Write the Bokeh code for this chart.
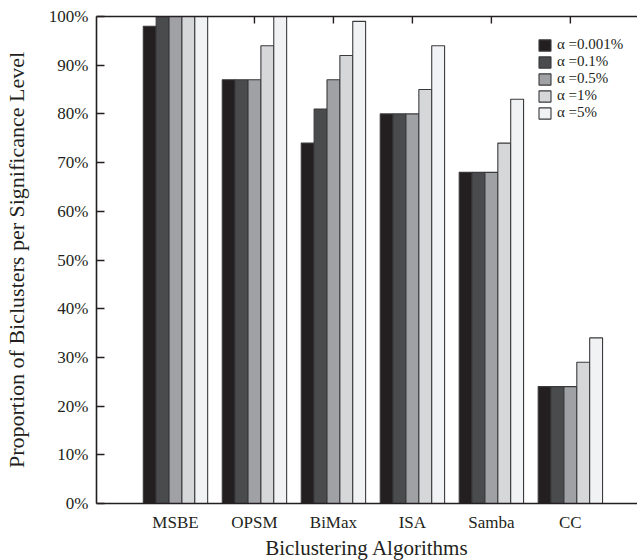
import numpy as np
from bokeh.plotting import figure
from bokeh.models import ColumnDataSource, Range1d, FixedTicker, LinearAxis, PrintfTickFormatter, Legend, LegendItem
from bokeh.transform import dodge
from bokeh.embed import file_html
from bokeh.resources import INLINE

algorithms = ["MSBE", "OPSM", "BiMax", "ISA", "Samba", "CC"]
levels = ["α =0.001%", "α =0.1%", "α =0.5%", "α =1%", "α =5%"]
a0001 = [98, 87, 74, 80, 68, 24]
a01 = [100, 87, 81, 80, 68, 24]
a05 = [100, 87, 87, 80, 68, 24]
a1 = [100, 94, 92, 85, 74, 29]
a5 = [100, 100, 99, 94, 83, 34]
series = [a0001, a01, a05, a1, a5]
colors = ["#231f20", "#4a4b4d", "#a0a1a4", "#d6d7d9", "#f1f2f4"]
y_ticks = list(range(0, 101, 10))

FONT = "Liberation Serif"
INK = "#231f20"

xpos = list(range(1, len(algorithms) + 1))
data = {"x": xpos}
for i, s in enumerate(series):
    data[f"s{i}"] = s
src = ColumnDataSource(data)

p = figure(frame_width=541, frame_height=487, output_backend="svg", toolbar_location=None,
           x_range=Range1d(0, 6.85), y_range=Range1d(0, 100),
           min_border_left=95, min_border_top=16, min_border_bottom=57, min_border_right=1,
           background_fill_color="white", border_fill_color="white")
p.outline_line_color = None
p.xgrid.visible = False
p.ygrid.visible = False

w = 0.163
items = []
for i, s in enumerate(series):
    r = p.vbar(x=dodge("x", (i - 2) * w, range=p.x_range), top=f"s{i}", width=w, source=src,
               fill_color=colors[i], line_color="#3a3a3c", line_width=1.1)
    items.append(LegendItem(label=levels[i], renderers=[r]))

# inward tick marks hanging from the top frame line at the group centres
top_x = [x for x, v in zip(xpos, a05) if v < 100]
p.ray(x=top_x, y=[y_ticks[-1]] * len(top_x), length=7, length_units="screen",
      angle=-np.pi / 2, line_color=INK, line_width=1.4)

# bottom axis
xa = p.xaxis[0]
xa.ticker = FixedTicker(ticks=xpos)
xa.major_label_overrides = {x: a for x, a in zip(xpos, algorithms)}
xa.major_tick_in = 0
xa.major_tick_out = 0
xa.minor_tick_in = 0
xa.minor_tick_out = 0
xa.axis_line_color = INK
xa.axis_line_width = 1.6
xa.major_label_text_font = FONT
xa.major_label_text_font_size = "17px"
xa.major_label_text_color = INK
xa.major_label_standoff = 9
xa.axis_label = "Biclustering Algorithms"
xa.axis_label_text_font = FONT
xa.axis_label_text_font_size = "21px"
xa.axis_label_text_font_style = "normal"
xa.axis_label_text_color = INK
xa.axis_label_standoff = 1

# left axis
ya = p.yaxis[0]
ya.ticker = FixedTicker(ticks=y_ticks)
ya.formatter = PrintfTickFormatter(format="%d%%")
ya.major_tick_in = 8
ya.major_tick_out = 0
ya.minor_tick_in = 0
ya.minor_tick_out = 0
ya.major_tick_line_color = INK
ya.major_tick_line_width = 1.4
ya.axis_line_color = INK
ya.axis_line_width = 1.6
ya.major_label_text_font = FONT
ya.major_label_text_font_size = "17px"
ya.major_label_text_color = INK
ya.major_label_standoff = 8
ya.axis_label = "Proportion of Biclusters per Significance Level"
ya.axis_label_text_font = FONT
ya.axis_label_text_font_size = "22px"
ya.axis_label_text_font_style = "normal"
ya.axis_label_text_color = INK
ya.axis_label_standoff = 17

# top frame line
ta = LinearAxis(ticker=FixedTicker(ticks=[]))
ta.major_tick_in = 0
ta.major_tick_out = 0
ta.minor_tick_in = 0
ta.minor_tick_out = 0
ta.axis_line_color = INK
ta.axis_line_width = 1.6
p.add_layout(ta, "above")

legend = Legend(items=items, location=(441, 382), padding=0, margin=0, spacing=0,
                glyph_width=15, glyph_height=14, label_height=16, label_standoff=5,
                label_text_font=FONT, label_text_font_size="15px", label_text_color=INK,
                border_line_color=None, background_fill_alpha=0)
p.add_layout(legend, "center")

open("out.html", "w").write(file_html(p, INLINE))
